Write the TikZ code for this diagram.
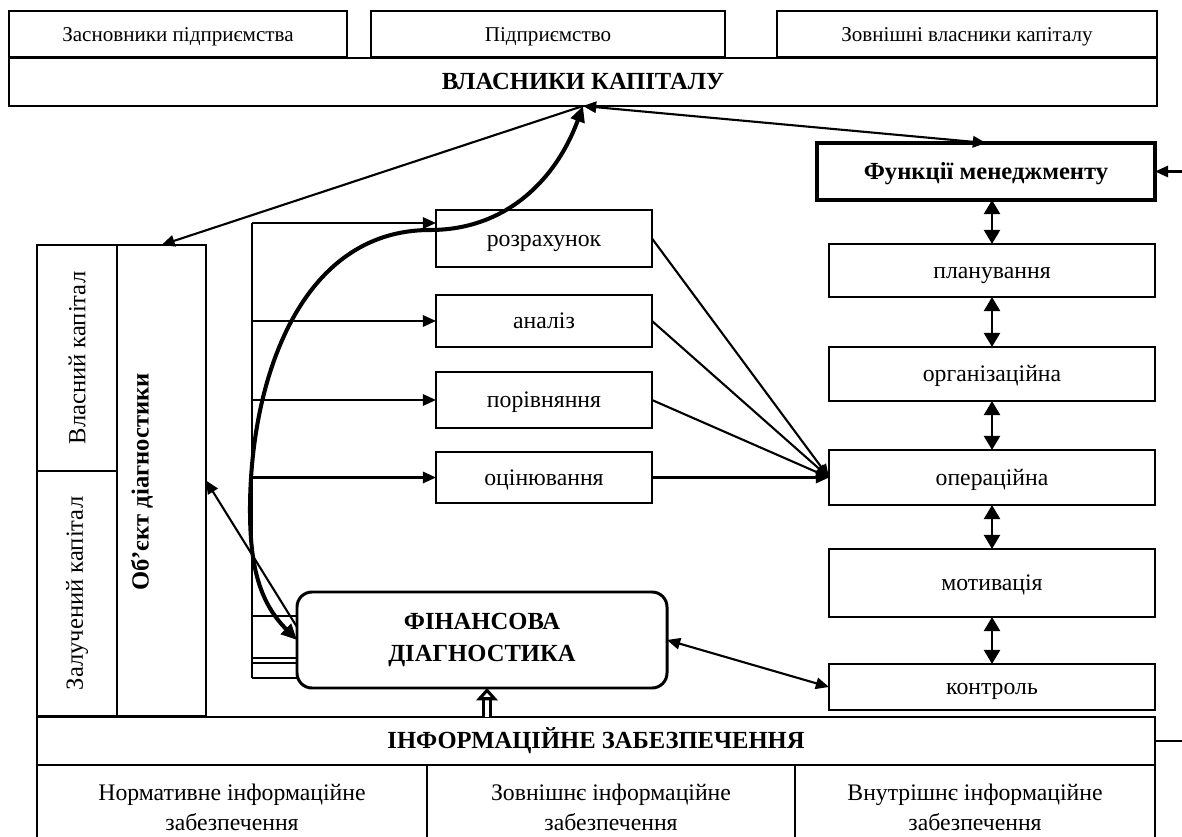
\documentclass[tikz,border=0pt,12pt]{standalone}
\usepackage{fontspec}
\setmainfont{Liberation Serif}
\usetikzlibrary{arrows.meta}

\tikzset{
    box/.style={draw, line width=1.1pt, fill=white, inner sep=0pt, outer sep=0pt,
        align=center, font=\fontsize{13.5}{17}\selectfont},
    oneline/.style={text height=11.5pt, text depth=2.5pt},
    topbox/.style={box, oneline, font=\fontsize{12}{15}\selectfont},
    headbox/.style={box, font=\fontsize{14}{18}\selectfont\bfseries},
    wh/.style 2 args={minimum width=#1*0.02cm, minimum height=#2*0.02cm},
    thinline/.style={line width=1.2pt},
    arr/.style={line width=1.2pt, -{Triangle[length=7.5pt,width=6.5pt]}},
    arrboth/.style={line width=1.2pt, {Triangle[length=7.5pt,width=6.5pt]}-{Triangle[length=7.5pt,width=6.5pt]}},
    vboth/.style={line width=1.6pt, {Triangle[length=8pt,width=9pt]}-{Triangle[length=8pt,width=9pt]}},
    curvearr/.style={line width=2.3pt, {Triangle[length=9pt,width=8pt]}-{Triangle[length=9pt,width=8pt]}},
    hollow/.style={double, double distance=2.5pt, line width=1.6pt, -{Triangle[open,length=7pt,width=12pt,line width=2pt]}}
}

\begin{document}
\begin{tikzpicture}[x=0.02cm, y=0.02cm]
    \useasboundingbox (0,0) rectangle (1182,-837);
    \clip (0,0) rectangle (1182,-837);

    % owners
    \node[topbox, wh={338}{46}] (founders) at (178,-34) {Засновники підприємства};
    \node[topbox, wh={354}{46}] (firm) at (548,-34) {Підприємство};
    \node[topbox, wh={380}{46}] (outer) at (967,-34) {Зовнішні власники капіталу};
    \node[headbox, oneline, wh={1148}{48}] (owners) at (583,-82) {ВЛАСНИКИ КАПІТАЛУ};

    % management functions
    \node[headbox, oneline, line width=2pt, wh={338}{57}] (mgmt) at (986,-171.5) {Функції менеджменту};
    \node[box, oneline, wh={326}{53}] (plan) at (992,-270.5) {планування};
    \node[box, oneline, wh={326}{54}] (org) at (992,-374) {організаційна};
    \node[box, oneline, wh={326}{55}] (oper) at (992,-477.5) {операційна};
    \node[box, oneline, wh={326}{68}] (motiv) at (992,-583) {мотивація};
    \node[box, oneline, wh={326}{46}] (ctrl) at (992,-687) {контроль};

    % object of diagnostics
    \node[box, rotate=90, wh={226}{80}, font=\fontsize{14}{17}\selectfont] (own) at (77,-358) {Власний капітал};
    \node[box, rotate=90, wh={245}{80}, font=\fontsize{14}{17}\selectfont] (borrowed) at (77,-593.5) {Залучений капітал};
    \node[box, wh={89}{471}] (obj) at (161.5,-480.5) {};
    \node[rotate=90, font=\fontsize{14}{18}\selectfont\bfseries] (objlabel) at (142,-482) {Об’єкт діагностики};

    % procedures
    \node[box, oneline, wh={216}{57}] (calc) at (544,-238.5) {розрахунок};
    \node[box, oneline, wh={216}{52}] (anal) at (544,-321) {аналіз};
    \node[box, oneline, wh={216}{56}] (comp) at (544,-400) {порівняння};
    \node[box, oneline, wh={216}{51}] (eval) at (544,-477.5) {оцінювання};

    \node[headbox, line width=1.7pt, rounded corners=0.3cm, wh={370}{96}] (fin) at (482,-640) {ФІНАНСОВА\\ДІАГНОСТИКА};

    % information support
    \node[headbox, oneline, wh={1118}{48}] (info) at (596,-741) {ІНФОРМАЦІЙНЕ ЗАБЕЗПЕЧЕННЯ};
    \node[box, wh={390}{85}] (norm) at (232,-807.5) {Нормативне інформаційне\\забезпечення};
    \node[box, wh={368}{85}] (extinfo) at (611,-807.5) {Зовнішнє інформаційне\\забезпечення};
    \node[box, wh={360}{85}] (intinfo) at (975,-807.5) {Внутрішнє інформаційне\\забезпечення};

    \coordinate (hub) at (owners.south);
    \coordinate (eastin) at (1182,-171.5);
    \coordinate (eastout) at (1182,-741);
    \coordinate (bustop) at (252,-223);
    \coordinate (busend) at (252,-678);
    \coordinate (upfoot) at (info.north -| fin.south);

    \draw[arrboth] (hub) -- (mgmt.north);
    \draw[arr] (hub) -- (obj.north);
    \draw[arr] (eastin) -- (mgmt.east);
    \draw[thinline] (info.east) -- (eastout);
    \draw[vboth] (plan.north |- mgmt.south) -- (plan.north);
    \draw[vboth] (plan.south) -- (org.north);
    \draw[vboth] (org.south) -- (oper.north);
    \draw[vboth] (oper.south) -- (motiv.north);
    \draw[vboth] (motiv.south) -- (ctrl.north);

    \draw[thinline] (bustop) -- (busend);
    \draw[arr] (bustop) -- (calc.west |- bustop);
    \draw[arr] (bustop |- anal.west) -- (anal.west);
    \draw[arr] (bustop |- comp.west) -- (comp.west);
    \draw[arr] (bustop |- eval.west) -- (eval.west);
    \foreach \yy in {-616,-658,-663,-678}
        \draw[thinline] (bustop |- 0,\yy) -- (fin.west |- 0,\yy);

    \foreach \n in {calc,anal,comp,eval}
        \draw[arr] (\n.east) -- (oper.west);
    \draw[arr] (fin.176) -- (obj.east);
    \draw[arrboth] (fin.east) -- (ctrl.west);
    \draw[hollow] ([xshift=0.1cm]upfoot) -- ([xshift=0.1cm]fin.south);

    \draw[curvearr] (fin.west) to[out=135,in=-90] (250,-510) to[out=90,in=180] (430,-230) to[out=0,in=-110] (hub);
\end{tikzpicture}
\end{document}
